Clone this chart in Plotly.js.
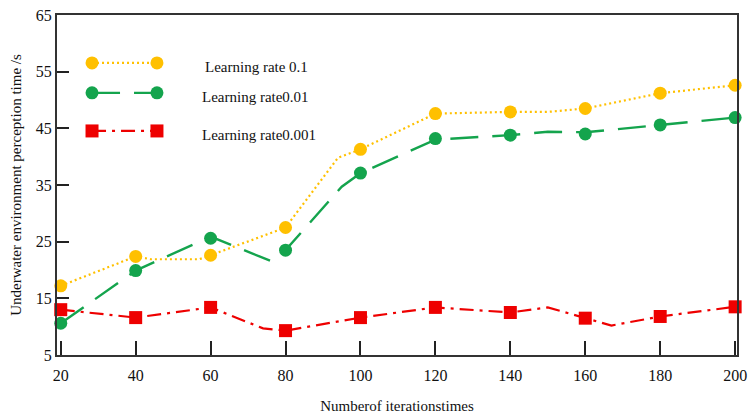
<!DOCTYPE html>
<html>
<head>
<meta charset="utf-8">
<script src="https://cdn.plot.ly/plotly-3.0.1.min.js"></script>
<style>
  html, body { margin: 0; padding: 0; background: #ffffff; }
  #chart { width: 756px; height: 420px; }
</style>
</head>
<body>
<div id="chart"></div>
<script>
// Iteration counts where markers are drawn
const iterations = [20, 40, 60, 80, 100, 120, 140, 160, 180, 200];

// Marker values (perception time, s)
const rate01Markers   = [17.2, 22.4, 22.6, 27.5, 41.3, 47.6, 47.9, 48.5, 51.2, 52.6];
const rate001Markers  = [10.6, 19.9, 25.6, 23.5, 37.1, 43.2, 43.8, 44.0, 45.6, 46.9];
const rate0001Markers = [13.0, 11.6, 13.4, 9.3, 11.6, 13.4, 12.5, 11.5, 11.8, 13.5];

// Connecting curves (they pass through extra bends)
const rate01LineX   = [20, 40, 44, 57, 60, 80, 94, 100, 120, 140, 150, 160, 180, 200];
const rate01LineY   = [17.2, 22.4, 21.9, 21.9, 22.6, 27.5, 39.8, 41.3, 47.6, 47.9, 47.9, 48.5, 51.2, 52.6];
const rate001LineX  = [20, 40, 60, 76, 80, 95, 100, 120, 140, 150, 160, 180, 200];
const rate001LineY  = [10.6, 19.9, 25.9, 21.6, 23.5, 34.7, 37.1, 43.0, 43.8, 44.4, 44.3, 45.6, 46.9];
const rate0001LineX = [20, 40, 60, 74, 80, 100, 120, 140, 150, 160, 167, 180, 200];
const rate0001LineY = [13.0, 11.6, 13.4, 9.7, 9.3, 11.6, 13.4, 12.5, 13.4, 11.5, 10.2, 11.8, 13.5];

const seriesNames = ['Learning rate 0.1', 'Learning rate0.01', 'Learning rate0.001'];
const xTicks = [20, 40, 60, 80, 100, 120, 140, 160, 180, 200];
const yTicks = [5, 15, 25, 35, 45, 55, 65];

const YELLOW = '#FFC000';
const GREEN = '#14A44D';
const RED = '#EE0000';

const FONT = 'Liberation Serif, Times New Roman, serif';

function lineTrace(x, y, color, dash, width, name) {
  return { x: x, y: y, type: 'scatter', mode: 'lines', name: name, showlegend: false,
           line: { color: color, dash: dash, width: width }, hoverinfo: 'skip' };
}
function markerTrace(x, y, color, symbol, name) {
  return { x: x, y: y, type: 'scatter', mode: 'markers', name: name, showlegend: false,
           cliponaxis: false,
           marker: { color: color, symbol: symbol, size: 13, line: { width: 0 } } };
}

const traces = [
  lineTrace(rate0001LineX, rate0001LineY, RED, '14px,6px,3px,6px', 2.2, seriesNames[2]),
  lineTrace(rate001LineX, rate001LineY, GREEN, '28px,14px', 2.4, seriesNames[1]),
  lineTrace(rate01LineX, rate01LineY, YELLOW, '2px,3px', 2.2, seriesNames[0]),
  markerTrace(iterations, rate0001Markers, RED, 'square', seriesNames[2]),
  markerTrace(iterations, rate001Markers, GREEN, 'circle', seriesNames[1]),
  markerTrace(iterations, rate01Markers, YELLOW, 'circle', seriesNames[0])
];

// Hand-drawn legend (line sample with a marker at each end)
const legendRows = [
  { y: 0.859, color: YELLOW, dash: '2px,3px', width: 2.2, symbol: 'circle', text: seriesNames[0], tx: 0.215 },
  { y: 0.771, color: GREEN, dash: '28px,14px', width: 2.4, symbol: 'circle', text: seriesNames[1], tx: 0.210 },
  { y: 0.659, color: RED, dash: '14px,6px,3px,6px', width: 2.2, symbol: 'square', text: seriesNames[2], tx: 0.210 }
];
const legX0 = 0.0515, legX1 = 0.147;
const shapes = [];
const annotations = [];
legendRows.forEach(r => {
  shapes.push({ type: 'line', xref: 'paper', yref: 'paper', x0: legX0, x1: legX1, y0: r.y, y1: r.y,
                line: { color: r.color, width: r.width, dash: r.dash } });
  [legX0, legX1].forEach(xa => {
    shapes.push({ type: r.symbol === 'square' ? 'rect' : 'circle', xref: 'paper', yref: 'paper',
                  xsizemode: 'pixel', ysizemode: 'pixel', xanchor: xa, yanchor: r.y,
                  x0: -6.5, x1: 6.5, y0: -6.5, y1: 6.5,
                  fillcolor: r.color, line: { width: 0 } });
  });
  annotations.push({ xref: 'paper', yref: 'paper', x: r.tx, y: r.y - 0.012, xanchor: 'left', yanchor: 'middle',
                     text: r.text, showarrow: false, font: { family: FONT, size: 15, color: '#111' } });
});

const layout = {
  width: 756, height: 420,
  margin: { l: 57, r: 19, t: 15, b: 65 },
  paper_bgcolor: '#ffffff', plot_bgcolor: '#ffffff',
  font: { family: FONT, size: 15, color: '#111' },
  showlegend: false,
  xaxis: {
    range: [19, 200.5], tickvals: xTicks, ticktext: xTicks.map(String),
    ticks: 'inside', ticklen: 14, tickwidth: 2, tickcolor: '#222',
    ticklabelstandoff: 5,
    showline: true, linecolor: '#333', linewidth: 2, mirror: true,
    showgrid: false, zeroline: false,
    tickfont: { family: FONT, size: 16, color: '#111' },
    title: { text: 'Numberof iterationstimes', font: { family: FONT, size: 15, color: '#111' }, standoff: 17 }
  },
  yaxis: {
    range: [5, 65], tickvals: yTicks, ticktext: yTicks.map(String),
    ticks: 'inside', ticklen: 12, tickwidth: 2, tickcolor: '#222',
    showline: true, linecolor: '#333', linewidth: 2, mirror: true,
    showgrid: false, zeroline: false,
    tickfont: { family: FONT, size: 16, color: '#111' },
    title: { text: 'Underwater environment perception time /s', font: { family: FONT, size: 15, color: '#111' }, standoff: 11 }
  },
  shapes: shapes,
  annotations: annotations
};

Plotly.newPlot('chart', traces, layout, { displayModeBar: false, staticPlot: true });
</script>
</body>
</html>
